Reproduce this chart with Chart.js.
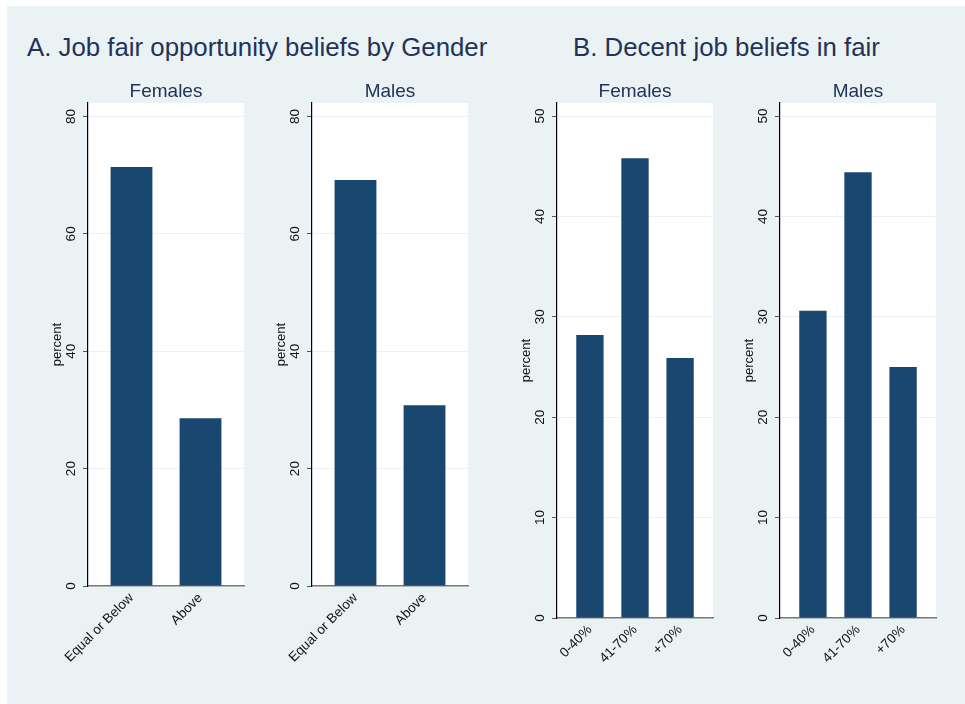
<!DOCTYPE html>
<html lang="en">
<head>
<meta charset="UTF-8" />
<title>Job fair beliefs</title>
<script src="https://cdn.jsdelivr.net/npm/chart.js"></script>
<style>
  * { box-sizing: border-box; margin: 0; padding: 0; }
  body {
    width: 965px;
    height: 704px;
    background: #fff;
    position: relative;
    overflow: hidden;
    font-family: "Liberation Sans", Arial, sans-serif;
  }
  .bg {
    position: absolute;
    left: 7px; top: 6px; right: 0; bottom: 0;
    background: #eaf2f3;
  }
  h1 {
    position: absolute;
    font-weight: normal;
    font-size: 25.8px;
    line-height: 30px;
    color: #22325a;
    white-space: nowrap;
  }
  canvas { position: absolute; top: 78px; }
</style>
</head>
<body>
<div class="bg"></div>
<h1 style="left:27px; top:32px">A. Job fair opportunity beliefs by Gender</h1>
<h1 style="left:573px; top:32px">B. Decent job beliefs in fair</h1>

<canvas id="aFemales" width="216" height="620" style="left:48px"></canvas>
<canvas id="aMales" width="216" height="620" style="left:272px"></canvas>
<canvas id="bFemales" width="216" height="620" style="left:517px"></canvas>
<canvas id="bMales" width="216" height="620" style="left:740px"></canvas>

<script>
  // panel A: fair opportunity
  const catsA = ["Equal or Below", "Above"];
  const femalesA = [71.4, 28.6];
  const malesA = [69.2, 30.8];
  const ticksA = [0, 20, 40, 60, 80];

  // panel B: decent job
  const catsB = ["0-40%", "41-70%", "+70%"];
  const femalesB = [28.2, 45.8, 25.9];
  const malesB = [30.6, 44.4, 25.0];
  const ticksB = [0, 10, 20, 30, 40, 50];

  const navy = "#1a476f";
  const ink = "#22325a";
  const fontFam = '"Liberation Sans", Arial, sans-serif';

  const plotBg = {
    id: "plotBg",
    beforeDraw(chart) {
      const a = chart.chartArea;
      const c = chart.ctx;
      c.save();
      c.fillStyle = "#fff";
      c.fillRect(a.left, a.top, a.right - a.left, a.bottom - a.top);
      c.restore();
    },
    afterDraw(chart, args, opts) {
      const a = chart.chartArea;
      const c = chart.ctx;
      c.save();
      c.font = "19px " + fontFam;
      c.fillStyle = ink;
      c.textAlign = "center";
      c.textBaseline = "alphabetic";
      c.fillText(opts.text, (a.left + a.right) / 2, 18.5);
      c.restore();
    },
  };

  function makePanel(id, title, cats, vals, yTicks, yMax, xPad, xAxisH) {
    new Chart(document.getElementById(id), {
      type: "bar",
      data: {
        datasets: [
          {
            data: vals.map((v, i) => ({ x: i, y: v })),
            backgroundColor: navy,
            borderWidth: 0,
            barPercentage: 0.606,
            categoryPercentage: 1,
          },
        ],
      },
      plugins: [plotBg],
      options: {
        responsive: false,
        animation: false,
        layout: { padding: { top: 25, right: 20 } },
        plugins: {
          legend: { display: false },
          tooltip: { enabled: false },
          plotBg: { text: title },
        },
        scales: {
          x: {
            type: "linear",
            offset: false,
            min: -xPad,
            max: cats.length - 1 + xPad,
            afterBuildTicks: (s) => {
              s.ticks = cats.map((c, i) => ({ value: i }));
            },
            afterFit: (s) => {
              s.height = xAxisH;
            },
            grid: { display: false, drawTicks: false, offset: false },
            border: { display: true, color: "#777", width: 1.5 },
            ticks: {
              autoSkip: false,
              minRotation: 45,
              maxRotation: 45,
              padding: 4,
              color: "#111",
              font: { family: fontFam, size: 13.5 },
              callback: (v) => cats[v],
            },
          },
          y: {
            min: 0,
            max: yMax,
            afterBuildTicks: (s) => {
              s.ticks = yTicks.map((v) => ({ value: v }));
            },
            afterFit: (s) => {
              s.width = 40;
            },
            grid: {
              color: "#eaf2f3",
              lineWidth: 1,
              tickColor: "#555",
              tickLength: 5,
            },
            border: { display: true, color: "#000", width: 1.2 },
            ticks: {
              minRotation: 90,
              maxRotation: 90,
              crossAlign: "center",
              padding: 4,
              color: "#111",
              font: { family: fontFam, size: 13.5 },
            },
            title: {
              display: true,
              text: "percent",
              color: "#111",
              font: { family: fontFam, size: 13 },
              padding: { top: 2, bottom: 0 },
            },
          },
        },
      },
    });
  }

  makePanel("aFemales", "Females", catsA, femalesA, ticksA, 82.3, 0.63, 112);
  makePanel("aMales", "Males", catsA, malesA, ticksA, 82.3, 0.63, 112);
  makePanel("bFemales", "Females", catsB, femalesB, ticksB, 51.3, 0.73, 80);
  makePanel("bMales", "Males", catsB, malesB, ticksB, 51.3, 0.73, 80);
</script>
</body>
</html>
